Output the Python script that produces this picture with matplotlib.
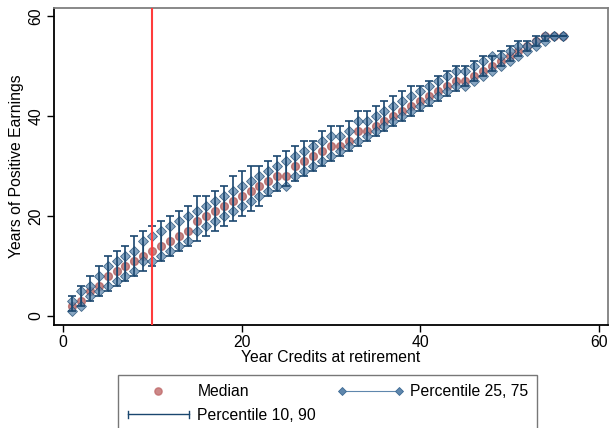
import numpy as np
import matplotlib
matplotlib.use("Agg")
from matplotlib import pyplot as plt
from matplotlib.lines import Line2D
from matplotlib.legend_handler import HandlerBase, HandlerLine2D

plt.rcParams['font.family'] = ['Liberation Sans', 'DejaVu Sans']
plt.rcParams['font.size'] = 11.3

credits = np.arange(1, 57)

median = [2, 3, 5, 6, 8, 9, 10, 11, 12, 13,
          14, 15, 16, 17, 19, 20, 21, 22, 23, 24,
          25, 26, 27, 28, 28, 30, 31, 32, 33, 34,
          34, 35, 37, 37, 38, 39, 40, 41, 42, 43,
          44, 45, 46, 47, 47, 48, 49, 50, 51, 52,
          53, 54, 55, 56, 56, 56]

p25 = [1, 2, 4, 5, 6, 7, 8, 9, 11, 11,
       12, 13, 14, 15, 17, 18, 19, 20, 21, 22,
       23, 24, 25, 26, 26, 28, 29, 30, 31, 32,
       33, 34, 35, 36, 37, 38, 39, 40, 41, 42,
       43, 44, 45, 46, 46, 47, 48, 49, 50, 51,
       52, 53, 54, 55, 56, 56]

p75 = [3, 5, 6, 8, 10, 11, 12, 13, 15, 16,
       17, 18, 19, 20, 21, 22, 23, 24, 25, 26,
       27, 28, 29, 30, 31, 32, 33, 34, 35, 36,
       36, 37, 39, 39, 40, 41, 42, 43, 44, 45,
       46, 47, 48, 49, 49, 50, 51, 52, 52, 53,
       54, 54, 55, 56, 56, 56]

p10 = [1, 2, 3, 4, 5, 6, 7, 8, 9, 10,
       11, 12, 13, 14, 15, 16, 17, 18, 19, 20,
       21, 22, 24, 25, 26, 27, 28, 29, 30, 31,
       32, 33, 34, 35, 36, 37, 38, 39, 40, 41,
       42, 43, 44, 45, 46, 47, 48, 49, 50, 51,
       52, 53, 54, 55, 56, 56]

p90 = [4, 6, 8, 10, 12, 13, 14, 16, 17, 18,
       19, 20, 21, 22, 24, 24, 25, 26, 28, 29,
       30, 30, 31, 32, 33, 34, 35, 35, 37, 38,
       38, 39, 41, 41, 42, 43, 44, 45, 46, 46,
       47, 48, 49, 50, 50, 51, 52, 52, 53, 54,
       55, 55, 56, 56, 56, 56]

cutoff = 10

navy = '#1a476f'
diamond_fill = '#5f87ad'
circle_fill = '#b05c5c'


class HandlerCap(HandlerBase):
    """Horizontal range bar with end caps, used for the rcap legend key."""

    def create_artists(self, legend, orig_handle, xdescent, ydescent,
                       width, height, fontsize, trans):
        y = height / 2 - ydescent
        x0, x1 = -xdescent, width - xdescent
        cap = height * 0.3
        line = Line2D([x0, x1], [y, y], color=navy, lw=1.0, transform=trans)
        c0 = Line2D([x0, x0], [y - cap, y + cap], color=navy, lw=1.0, transform=trans)
        c1 = Line2D([x1, x1], [y - cap, y + cap], color=navy, lw=1.0, transform=trans)
        return [line, c0, c1]


fig = plt.figure(figsize=(6.09, 4.28), dpi=100)
ax = fig.add_axes([0.0887, 0.2407, 0.9093, 0.7403])

ax.plot(credits, median, 'o', ms=5.6, mfc=circle_fill, mec=circle_fill,
        alpha=0.75, zorder=2)
ax.vlines(credits, p25, p75, color=navy, lw=0.8, zorder=2.5)
ax.plot(credits, p25, 'D', ms=5.2, mfc=diamond_fill, mec=navy, mew=0.6,
        alpha=0.75, zorder=3)
ax.plot(credits, p75, 'D', ms=5.2, mfc=diamond_fill, mec=navy, mew=0.6,
        alpha=0.75, zorder=3)
ax.errorbar(credits, median, yerr=[np.subtract(median, p10), np.subtract(p90, median)],
            fmt='none', ecolor=navy, elinewidth=1.2, capsize=3.2, capthick=1.2,
            zorder=4)
ax.axvline(cutoff, color='#ff3b3b', lw=1.5, zorder=5)

ax.set_xlim(-1.0, 61.0)
ax.set_ylim(-1.8, 61.6)
ax.set_xticks([0, 20, 40, 60])
ax.set_yticks([0, 20, 40, 60])
ax.tick_params(direction='out', length=5, width=1, colors='black',
               labelsize=11.3, pad=2.5)
for lbl in ax.get_yticklabels():
    lbl.set_rotation(90)
    lbl.set_va('center')
ax.set_xlabel('Year Credits at retirement', labelpad=0)
ax.set_ylabel('Years of Positive Earnings', labelpad=3)

for side in ['left', 'bottom']:
    ax.spines[side].set_color('black')
    ax.spines[side].set_linewidth(1.3)
for side in ['top', 'right']:
    ax.spines[side].set_color('#7f7f7f')
    ax.spines[side].set_linewidth(1.3)

h_med = Line2D([], [], ls='none', marker='o', ms=5.2, mfc='#c06a6a',
               mec='#c06a6a', alpha=0.8)
h_iqr = Line2D([], [], color='#5f87ad', lw=0.8, marker='D', ms=4.4,
               mfc=diamond_fill, mec='#3d6a94', mew=0.6)
h_cap = object()

leg = fig.legend([h_med, h_cap, h_iqr],
                 ['Median', 'Percentile 10, 90', 'Percentile 25, 75'],
                 handler_map={h_med: HandlerLine2D(numpoints=1),
                              h_iqr: HandlerLine2D(numpoints=2, marker_pad=0.15),
                              h_cap: HandlerCap()},
                 loc='upper left', bbox_to_anchor=(0.194, 0.124),
                 ncol=2, frameon=True, fancybox=False, fontsize=11.3,
                 handlelength=3.9, handletextpad=0.55, columnspacing=1.5,
                 borderpad=0.6, borderaxespad=0, labelspacing=0.55)
leg.get_frame().set_edgecolor('#555555')
leg.get_frame().set_linewidth(1.0)

fig.savefig('out.png', dpi=100)
